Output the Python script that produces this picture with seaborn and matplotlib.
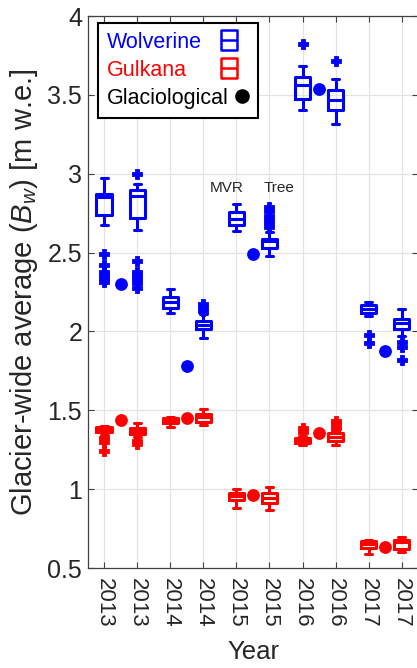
import numpy as np
import pandas as pd
import matplotlib
matplotlib.use("Agg")
import matplotlib.pyplot as plt
from matplotlib.path import Path
from matplotlib.lines import Line2D
import seaborn as sns

# ---------------- data ----------------
years = ["2013", "2013", "2014", "2014", "2015", "2015", "2016", "2016", "2017", "2017"]

# Wolverine box statistics (MVR, Tree alternating)
wol_lo  = [2.677, 2.643, 2.115, 1.958, 2.637, 2.480, 3.405, 3.316, 2.095, 1.974]
wol_q1  = [2.739, 2.718, 2.151, 2.017, 2.674, 2.527, 3.476, 3.405, 2.115, 2.017]
wol_med = [2.853, 2.861, 2.185, 2.043, 2.712, 2.572, 3.564, 3.466, 2.140, 2.052]
wol_q3  = [2.873, 2.894, 2.219, 2.068, 2.755, 2.588, 3.613, 3.530, 2.167, 2.078]
wol_hi  = [2.970, 2.935, 2.268, 2.109, 2.806, 2.630, 3.680, 3.598, 2.185, 2.140]
wol_fliers = [
    [2.494, 2.424, 2.377, 2.356, 2.336, 2.315],
    [3.000, 2.444, 2.377, 2.356, 2.330, 2.305, 2.274],
    [],
    [2.171, 2.151, 2.130],
    [],
    [2.786, 2.766, 2.731, 2.710, 2.690, 2.660],
    [3.823],
    [3.714],
    [1.979, 1.928],
    [1.932, 1.900, 1.820],
]

# Gulkana box statistics
gul_lo  = [1.345, 1.330, 1.392, 1.404, 0.879, 0.870, 1.278, 1.280, 0.589, 0.600]
gul_q1  = [1.365, 1.348, 1.419, 1.426, 0.932, 0.909, 1.290, 1.303, 0.628, 0.623]
gul_med = [1.380, 1.370, 1.435, 1.456, 0.954, 0.943, 1.305, 1.330, 0.651, 0.662]
gul_q3  = [1.392, 1.388, 1.449, 1.478, 0.977, 0.977, 1.325, 1.359, 0.669, 0.680]
gul_hi  = [1.400, 1.419, 1.456, 1.509, 1.000, 1.015, 1.340, 1.370, 0.676, 0.697]
gul_fliers = [
    [1.325, 1.300, 1.240],
    [1.307, 1.285],
    [],
    [],
    [],
    [],
    [1.385, 1.360],
    [1.433, 1.410, 1.388],
    [],
    [],
]

# Glaciological estimates (one per year)
wol_glac = [2.30, 1.778, 2.49, 3.537, 1.878]
gul_glac = [1.437, 1.449, 0.966, 1.359, 0.635]

# ---------------- style ----------------
sns.set_style("ticks")
plt.rcParams["font.family"] = ["Liberation Sans", "DejaVu Sans"]
plt.rcParams["mathtext.fontset"] = "custom"
plt.rcParams["mathtext.it"] = "Liberation Sans:italic"
plt.rcParams["mathtext.rm"] = "Liberation Sans"

TXT = "#262626"
BLUE = (0, 0, 1)
RED = (1, 0, 0)

box_pos = np.arange(1, len(years) + 1)
glac_pos = box_pos[::2] + 0.5


def box_frame(lo, q1, med, q3, hi):
    rows = []
    for p, vals in zip(box_pos, zip(lo, q1, med, q3, hi)):
        for v in vals:
            rows.append({"pos": p, "value": v})
    return pd.DataFrame(rows)


def flier_frame(fliers):
    xs, ys = [], []
    for p, fl in zip(box_pos, fliers):
        xs += [p] * len(fl)
        ys += list(fl)
    return pd.DataFrame({"pos": xs, "value": ys})


fig = plt.figure(figsize=(4.17, 6.68), dpi=100)
ax = fig.add_axes([0.2103, 0.1497, 0.7926, 0.8263])

for lo, q1, md, q3, hi, fl, glac, col in [
    (wol_lo, wol_q1, wol_med, wol_q3, wol_hi, wol_fliers, wol_glac, BLUE),
    (gul_lo, gul_q1, gul_med, gul_q3, gul_hi, gul_fliers, gul_glac, RED),
]:
    sns.boxplot(data=box_frame(lo, q1, md, q3, hi), x="pos", y="value",
                native_scale=True, fill=False, color=col, linewidth=2.2,
                whis=(0, 100), width=0.47, capwidths=0.2, ax=ax)
    sns.scatterplot(data=flier_frame(fl), x="pos", y="value", marker="P",
                    s=44, color=col, edgecolor=col, linewidth=0.6, ax=ax, zorder=3)
    sns.scatterplot(x=glac_pos, y=glac, s=85, color=col, linewidth=0,
                    ax=ax, zorder=3)

ax.set_xlim(0.5, len(years) + 0.5)
ax.set_ylim(0.5, 4)
ax.set_xticks(box_pos)
ax.set_xticklabels(years, rotation=-90, fontsize=16, color=TXT)
ax.set_yticks(np.arange(0.5, 4.01, 0.5))
ax.set_yticklabels(["0.5", "1", "1.5", "2", "2.5", "3", "3.5", "4"], fontsize=18, color=TXT)
ax.tick_params(direction="in", length=4, width=0.8, top=True, right=True, color="#404040")
ax.tick_params(axis="x", pad=7)
ax.tick_params(axis="y", pad=4)
ax.grid(True, color="#e3e3e3", linewidth=0.9)
ax.set_axisbelow(True)
for s in ax.spines.values():
    s.set_color("#404040")
    s.set_linewidth(0.9)

ax.set_xlabel("Year", fontsize=18.5, color=TXT, labelpad=9)
ax.set_ylabel(r"Glacier-wide average ($B_w$) [m w.e.]", fontsize=21, color=TXT, labelpad=5)

ax.text(4.70, 2.908, "MVR", ha="center", va="center", fontsize=11, color=TXT)
ax.text(6.29, 2.908, "Tree", ha="center", va="center", fontsize=11, color=TXT)

# legend
box_icon = Path([(-0.4, -0.5), (0.4, -0.5), (0.4, 0.5), (-0.4, 0.5), (-0.4, -0.5), (-0.4, 0.0), (0.4, 0.0)],
                [Path.MOVETO, Path.LINETO, Path.LINETO, Path.LINETO, Path.CLOSEPOLY, Path.MOVETO, Path.LINETO])
h_w = Line2D([], [], linestyle="none", marker=box_icon, markersize=15, markerfacecolor="none",
             markeredgecolor=BLUE, markeredgewidth=1.8)
h_g = Line2D([], [], linestyle="none", marker=box_icon, markersize=15, markerfacecolor="none",
             markeredgecolor=RED, markeredgewidth=1.8)
h_c = Line2D([], [], linestyle="none", marker="o", markersize=9.5, markerfacecolor="black",
             markeredgecolor="black")
LEG_FS = 15.5
leg = ax.legend([h_w, h_g, h_c], ["Wolverine", "Gulkana", "Glaciological"],
                loc="upper left", bbox_to_anchor=(97.7 / 417, 1 - 22.7 / 668),
                bbox_transform=fig.transFigure, markerfirst=False,
                labelcolor=[BLUE, RED, "black"], fontsize=LEG_FS, frameon=True,
                fancybox=False, edgecolor="black", framealpha=1, borderaxespad=0,
                handlelength=0.7, handletextpad=0.25, labelspacing=0.33, borderpad=0.42)
leg.get_frame().set_linewidth(1.5)
try:
    leg._legend_handle_box.get_children()[0].align = "left"
    fig.canvas.draw()
    r = fig.canvas.get_renderer()
    widths = [t.get_window_extent(r).width for t in leg.get_texts()]
    px2pt = 72.0 / fig.dpi
    extra = 14.0  # box icons sit a bit further from their labels than the dot
    for i in (0, 1):
        dx = (widths[0] - widths[i] + extra) * px2pt
        h = leg.legend_handles[i]
        h.set_xdata(np.asarray(h.get_xdata()) + dx)
except Exception:
    pass

fig.savefig("out.png", dpi=100)
